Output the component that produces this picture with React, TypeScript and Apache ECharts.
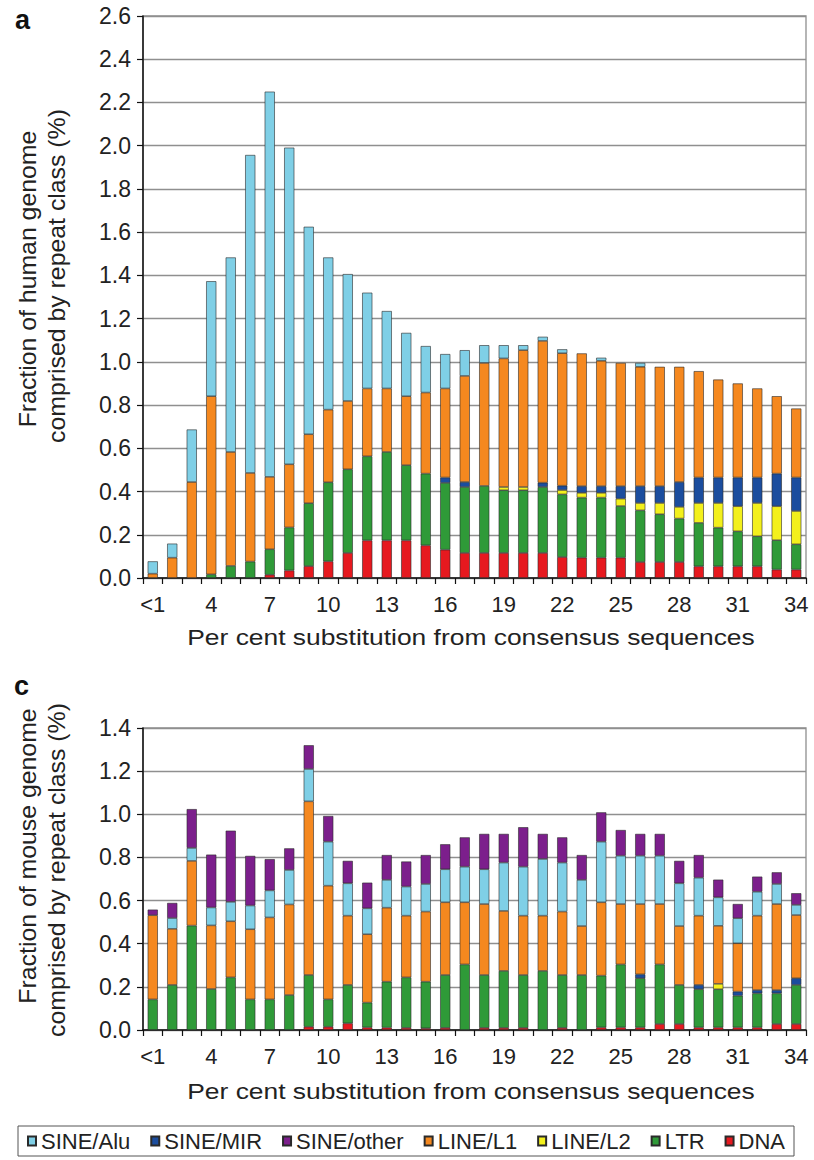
import React, { useEffect, useRef } from "react";
import * as echarts from "echarts";

const FONT = "'Liberation Sans', Arial, Helvetica, sans-serif";

const CATEGORIES = [
  "<1", "2", "3", "4", "5", "6", "7", "8", "9", "10", "11", "12", "13", "14", "15", "16", "17",
  "18", "19", "20", "21", "22", "23", "24", "25", "26", "27", "28", "29", "30", "31", "32", "33", "34",
];

const LEGEND_ORDER = ["SINE/Alu", "SINE/MIR", "SINE/other", "LINE/L1", "LINE/L2", "LTR", "DNA"];
const STACK_ORDER = ["DNA", "LTR", "LINE/L2", "SINE/MIR", "LINE/L1", "SINE/Alu", "SINE/other"];

const COLORS: Record<string, string> = {
  "SINE/Alu": "#7fcfe6",
  "SINE/MIR": "#1b4d9e",
  "SINE/other": "#7c1f8c",
  "LINE/L1": "#f5881f",
  "LINE/L2": "#f3f01c",
  LTR: "#2f9a38",
  DNA: "#e6191f",
};

// ---- Panel a: human genome (% of genome) ----
const HUMAN_DNA = [
  0, 0, 0, 0, 0, 0, 0.015, 0.035, 0.055, 0.077, 0.116, 0.174, 0.174, 0.174, 0.151, 0.131, 0.116,
  0.116, 0.116, 0.116, 0.116, 0.097, 0.094, 0.094, 0.094, 0.074, 0.074, 0.074, 0.054, 0.054, 0.054,
  0.054, 0.039, 0.039,
];
const HUMAN_LTR = [
  0, 0, 0, 0.017, 0.056, 0.076, 0.118, 0.199, 0.291, 0.366, 0.387, 0.389, 0.409, 0.348, 0.332, 0.309,
  0.305, 0.31, 0.29, 0.29, 0.305, 0.29, 0.278, 0.278, 0.239, 0.239, 0.221, 0.201, 0.201, 0.179,
  0.162, 0.139, 0.136, 0.117,
];
const HUMAN_L2 = [
  0, 0, 0, 0, 0, 0, 0, 0, 0, 0, 0, 0, 0, 0, 0, 0, 0, 0, 0.015, 0.015, 0, 0.02, 0.022, 0.022, 0.034,
  0.034, 0.052, 0.054, 0.092, 0.114, 0.116, 0.154, 0.157, 0.154,
];
const HUMAN_MIR = [
  0, 0, 0, 0, 0, 0, 0, 0, 0, 0, 0, 0, 0, 0, 0, 0.025, 0.023, 0, 0, 0, 0.02, 0.02, 0.031, 0.031,
  0.058, 0.078, 0.078, 0.115, 0.118, 0.118, 0.133, 0.118, 0.151, 0.155,
];
const HUMAN_L1 = [
  0.02, 0.094, 0.444, 0.824, 0.527, 0.41, 0.335, 0.292, 0.319, 0.336, 0.316, 0.314, 0.294, 0.319,
  0.375, 0.412, 0.491, 0.569, 0.595, 0.633, 0.656, 0.613, 0.614, 0.58, 0.57, 0.552, 0.552, 0.533,
  0.492, 0.453, 0.435, 0.412, 0.358, 0.319,
];
const HUMAN_ALU = [
  0.057, 0.065, 0.243, 0.532, 0.9, 1.471, 1.782, 1.465, 0.96, 0.704, 0.587, 0.443, 0.358, 0.293,
  0.215, 0.159, 0.119, 0.082, 0.061, 0.023, 0.019, 0.018, 0, 0.014, 0, 0.018, 0, 0, 0, 0, 0, 0, 0, 0,
];

// ---- Panel c: mouse genome (% of genome) ----
const MOUSE_DNA = [
  0, 0, 0, 0, 0, 0, 0, 0, 0.015, 0.015, 0.031, 0.012, 0.011, 0.01, 0.008, 0.01, 0, 0.01, 0.01, 0.01,
  0, 0.01, 0, 0.012, 0.012, 0.012, 0.028, 0.028, 0.012, 0.012, 0.012, 0.012, 0.028, 0.028,
];
const MOUSE_LTR = [
  0.142, 0.209, 0.484, 0.19, 0.244, 0.142, 0.142, 0.162, 0.24, 0.127, 0.178, 0.115, 0.213, 0.234,
  0.216, 0.245, 0.304, 0.245, 0.264, 0.245, 0.274, 0.245, 0.255, 0.24, 0.292, 0.228, 0.276, 0.181,
  0.177, 0.177, 0.147, 0.158, 0.142, 0.181,
];
const MOUSE_L2 = [
  0, 0, 0, 0, 0, 0, 0, 0, 0, 0, 0, 0, 0, 0, 0, 0, 0, 0, 0, 0, 0, 0, 0, 0, 0, 0, 0, 0, 0, 0.025, 0, 0,
  0, 0,
];
const MOUSE_MIR = [
  0, 0, 0, 0, 0, 0, 0, 0, 0, 0, 0, 0, 0, 0, 0, 0, 0, 0, 0, 0, 0, 0, 0, 0, 0, 0.018, 0, 0, 0.02, 0,
  0.019, 0.015, 0.015, 0.031,
];
const MOUSE_L1 = [
  0.39, 0.26, 0.3, 0.295, 0.26, 0.325, 0.38, 0.42, 0.805, 0.527, 0.321, 0.317, 0.343, 0.286, 0.325,
  0.337, 0.288, 0.329, 0.278, 0.275, 0.256, 0.294, 0.227, 0.34, 0.28, 0.326, 0.28, 0.273, 0.321,
  0.269, 0.224, 0.345, 0.399, 0.293,
];
const MOUSE_ALU = [
  0, 0.05, 0.06, 0.083, 0.09, 0.11, 0.125, 0.16, 0.15, 0.204, 0.15, 0.12, 0.129, 0.135, 0.128, 0.153,
  0.165, 0.161, 0.224, 0.227, 0.263, 0.227, 0.214, 0.281, 0.224, 0.224, 0.224, 0.198, 0.176, 0.132,
  0.116, 0.111, 0.093, 0.047,
];
const MOUSE_OTHER = [
  0.026, 0.07, 0.18, 0.245, 0.33, 0.23, 0.145, 0.1, 0.11, 0.119, 0.104, 0.119, 0.115, 0.116, 0.134,
  0.116, 0.136, 0.164, 0.133, 0.183, 0.116, 0.117, 0.115, 0.136, 0.119, 0.101, 0.101, 0.104, 0.105,
  0.082, 0.066, 0.07, 0.054, 0.054,
];

const HUMAN: Record<string, number[]> = {
  DNA: HUMAN_DNA,
  LTR: HUMAN_LTR,
  "LINE/L2": HUMAN_L2,
  "SINE/MIR": HUMAN_MIR,
  "LINE/L1": HUMAN_L1,
  "SINE/Alu": HUMAN_ALU,
};
const MOUSE: Record<string, number[]> = {
  DNA: MOUSE_DNA,
  LTR: MOUSE_LTR,
  "LINE/L2": MOUSE_L2,
  "SINE/MIR": MOUSE_MIR,
  "LINE/L1": MOUSE_L1,
  "SINE/Alu": MOUSE_ALU,
  "SINE/other": MOUSE_OTHER,
};

const TEXT_COLOR = "#222";
const GRID_COLOR = "#8f8f8f";

function xAxis(gridIndex: number) {
  return {
    type: "category",
    gridIndex,
    data: CATEGORIES,
    axisLine: { show: true, lineStyle: { color: "#111", width: 1.5 } },
    axisTick: { show: true, interval: 0, length: 6, lineStyle: { color: "#111", width: 1.2 } },
    axisLabel: { interval: 2, margin: 15, fontSize: 22, color: TEXT_COLOR, fontFamily: FONT },
    splitLine: { show: false },
  };
}

function yAxis(gridIndex: number, max: number) {
  return {
    type: "value",
    gridIndex,
    min: 0,
    max,
    interval: 0.2,
    axisLine: { show: true, lineStyle: { color: "#111", width: 1.5 } },
    axisTick: { show: true, length: 6, lineStyle: { color: "#111", width: 1.2 } },
    axisLabel: {
      margin: 12,
      fontSize: 23,
      color: TEXT_COLOR,
      fontFamily: FONT,
      formatter: (v: number) => v.toFixed(1),
    },
    splitLine: { show: true, lineStyle: { color: GRID_COLOR, width: 1.3 } },
  };
}

function buildSeries(table: Record<string, number[]>, idx: number, stack: string) {
  return STACK_ORDER.filter((n) => table[n]).map((name) => ({
    type: "bar",
    name,
    xAxisIndex: idx,
    yAxisIndex: idx,
    stack,
    barWidth: "52%",
    data: table[name].map((v) => (v === 0 ? "-" : v)),
    itemStyle: { color: COLORS[name], borderColor: "#2a2a2a", borderWidth: 0.6 },
    emphasis: { disabled: true },
  }));
}

function titleText(text: string, x: number, y: number, rotated: boolean, scaleX: number, size: number) {
  return {
    type: "text",
    x,
    y,
    rotation: rotated ? Math.PI / 2 : 0,
    scaleX,
    silent: true,
    style: {
      text,
      fontSize: size,
      fontFamily: FONT,
      fill: TEXT_COLOR,
      align: "center",
      verticalAlign: "middle",
    },
  };
}

export default function App() {
  const ref = useRef<HTMLDivElement>(null);

  useEffect(() => {
    if (!ref.current) return;
    const prevMargin = document.body.style.margin;
    document.body.style.margin = "0";
    const chart = echarts.init(ref.current, null, { renderer: "svg" });
    const option = {
      animation: false,
      backgroundColor: "#ffffff",
      grid: [
        { left: 143, top: 16, width: 663, height: 562, show: true, borderColor: GRID_COLOR, borderWidth: 1.3 },
        { left: 143, top: 728, width: 663, height: 302, show: true, borderColor: GRID_COLOR, borderWidth: 1.3 },
      ],
      xAxis: [xAxis(0), xAxis(1)],
      yAxis: [yAxis(0, 2.6), yAxis(1, 1.4)],
      legend: {
        data: LEGEND_ORDER,
        left: 18,
        top: 1126,
        orient: "horizontal",
        icon: "rect",
        itemWidth: 8,
        itemHeight: 9,
        itemGap: 20,
        padding: [4, 9],
        borderColor: "#555",
        borderWidth: 1,
        selectedMode: false,
        textStyle: { fontSize: 22, fontFamily: FONT, color: TEXT_COLOR },
      },
      tooltip: { show: false },
      series: [...buildSeries(HUMAN, 0, "human"), ...buildSeries(MOUSE, 1, "mouse")],
      graphic: [
        { type: "text", x: 15, y: 20, silent: true, style: { text: "a", fontSize: 27, fontWeight: "bold", fontFamily: FONT, fill: "#111", align: "left", verticalAlign: "middle" } },
        { type: "text", x: 14, y: 686, silent: true, style: { text: "c", fontSize: 27, fontWeight: "bold", fontFamily: FONT, fill: "#111", align: "left", verticalAlign: "middle" } },
        titleText("Fraction of human genome", 28, 279, true, 1.08, 23),
        titleText("comprised by repeat class (%)", 57, 276, true, 1.08, 23),
        titleText("Fraction of mouse genome", 28, 856, true, 1.08, 23),
        titleText("comprised by repeat class (%)", 57, 870, true, 1.08, 23),
        titleText("Per cent substitution from consensus sequences", 471, 637, false, 1.2, 22),
        titleText("Per cent substitution from consensus sequences", 471, 1091, false, 1.2, 22),
      ],
    };
    chart.setOption(option as any);
    return () => {
      chart.dispose();
      document.body.style.margin = prevMargin;
    };
  }, []);

  return (
    <div
      ref={ref}
      style={{ position: "relative", width: 814, height: 1160, background: "#fff" }}
    />
  );
}
